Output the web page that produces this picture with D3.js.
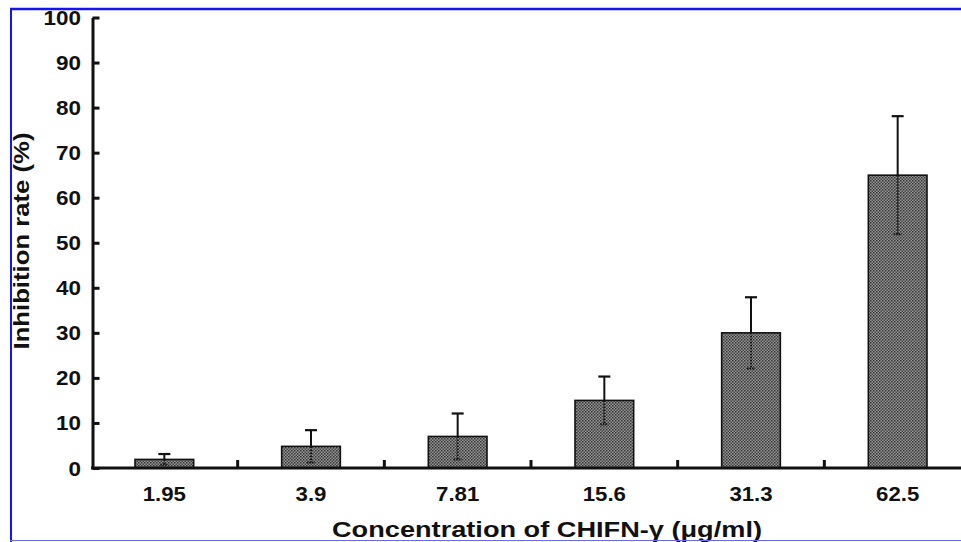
<!DOCTYPE html>
<html>
<head>
<meta charset="utf-8">
<script src="https://cdn.jsdelivr.net/npm/d3@7"></script>
<style>
  html, body { margin: 0; padding: 0; background: #fff; }
  svg { display: block; }
  text { font-family: "Liberation Sans", Arial, sans-serif; font-weight: bold; fill: #111; }
</style>
</head>
<body>
<svg id="chart" width="961" height="542"></svg>
<script>
// ---- data ----
const categories = ["1.95", "3.9", "7.81", "15.6", "31.3", "62.5"];
const values = [1.9, 4.8, 7.0, 15.0, 30.0, 65.0];
const sds = [1.2, 3.6, 5.1, 5.3, 7.9, 13.1];
const yTicks = [0, 10, 20, 30, 40, 50, 60, 70, 80, 90, 100];
const xTitle = "Concentration of CHIFN-\u03b3 (\u03bcg/ml)";
const yTitle = "Inhibition rate (%)";

const svg = d3.select("#chart");
const W = 961, H = 542;

// pattern for bars
const defs = svg.append("defs");
const pat = defs.append("pattern").attr("id", "dots")
  .attr("width", 3).attr("height", 3).attr("patternUnits", "userSpaceOnUse");
pat.append("rect").attr("width", 3).attr("height", 3).attr("fill", "#969696");
pat.append("rect").attr("x", 0).attr("y", 0).attr("width", 1.5).attr("height", 1.5).attr("fill", "#333");
pat.append("rect").attr("x", 1.5).attr("y", 1.5).attr("width", 1.5).attr("height", 1.5).attr("fill", "#444");

// scales
const x = d3.scaleBand().domain(categories).range([91, 971]).paddingInner(0.6).paddingOuter(0.3);
const y = d3.scaleLinear().domain([0, 100]).range([468, 17.5]);
const step = x.step();

// stretch helper (reference text is horizontally wide)
function stretch(sel, k) {
  sel.each(function() {
    const len = this.getComputedTextLength();
    d3.select(this).attr("textLength", len * k).attr("lengthAdjust", "spacingAndGlyphs");
  });
}

// bars
svg.append("g").selectAll("rect").data(categories).join("rect")
  .attr("x", d => x(d))
  .attr("y", (d, i) => y(values[i]))
  .attr("width", x.bandwidth())
  .attr("height", (d, i) => y(0) - y(values[i]))
  .attr("fill", "url(#dots)")
  .attr("stroke", "#111").attr("stroke-width", 1.6);

// error bars
const eg = svg.append("g");
categories.forEach((c, i) => {
  const cx = x(c) + x.bandwidth() / 2;
  const top = y(values[i] + sds[i]);
  const low = y(Math.max(0, values[i] - sds[i]));
  const v = y(values[i]);
  eg.append("line").attr("x1", cx).attr("x2", cx).attr("y1", v).attr("y2", top)
    .attr("stroke", "#111").attr("stroke-width", 2);
  eg.append("line").attr("x1", cx - 6).attr("x2", cx + 6).attr("y1", top).attr("y2", top)
    .attr("stroke", "#111").attr("stroke-width", 2.2);
  eg.append("line").attr("x1", cx).attr("x2", cx).attr("y1", v).attr("y2", low)
    .attr("stroke", "#111").attr("stroke-width", 2).attr("stroke-dasharray", "1.5,1.5");
  eg.append("line").attr("x1", cx - 4).attr("x2", cx + 4).attr("y1", low).attr("y2", low)
    .attr("stroke", "#111").attr("stroke-width", 2).attr("stroke-dasharray", "1.5,1");
});

// y axis
const yAxis = svg.append("g").attr("transform", "translate(92.5,0)")
  .call(d3.axisLeft(y).tickValues(yTicks).tickSizeInner(-7).tickSizeOuter(0).tickPadding(11.5));
yAxis.select(".domain").attr("stroke", "#111").attr("stroke-width", 3);
yAxis.selectAll(".tick line").attr("stroke", "#111").attr("stroke-width", 3);
yAxis.selectAll(".tick text").attr("font-size", 19.5).attr("font-family", "Liberation Sans, Arial, sans-serif")
  .attr("font-weight", "bold").attr("fill", "#111").attr("dy", "0.36em");
stretch(yAxis.selectAll(".tick text"), 1.15);

// x axis labels
const xAxis = svg.append("g").attr("transform", `translate(0,${y(0)})`)
  .call(d3.axisBottom(x).tickSize(0).tickPadding(19));
xAxis.select(".domain").remove();
svg.append("line").attr("x1", 91).attr("x2", W).attr("y1", y(0)).attr("y2", y(0))
  .attr("stroke", "#111").attr("stroke-width", 3);
xAxis.selectAll(".tick text").attr("font-size", 19.5).attr("font-family", "Liberation Sans, Arial, sans-serif")
  .attr("font-weight", "bold").attr("fill", "#111");
stretch(xAxis.selectAll(".tick text"), 1.14);

// category boundary ticks (pointing up)
svg.append("g").selectAll("line").data(categories.slice(0, -1)).join("line")
  .attr("x1", d => x(d) + x.bandwidth() / 2 + step / 2)
  .attr("x2", d => x(d) + x.bandwidth() / 2 + step / 2)
  .attr("y1", y(0)).attr("y2", y(0) - 8)
  .attr("stroke", "#111").attr("stroke-width", 3);

// titles
const xt = svg.append("text").attr("x", 547).attr("y", 537).attr("text-anchor", "middle")
  .attr("font-size", 21.5).text(xTitle);
xt.attr("textLength", 430).attr("lengthAdjust", "spacingAndGlyphs");

const yt = svg.append("text").attr("transform", "translate(28.5,241) rotate(-90)")
  .attr("text-anchor", "middle").attr("font-size", 22).text(yTitle);
yt.attr("textLength", 217).attr("lengthAdjust", "spacingAndGlyphs");

// blue frame
svg.append("line").attr("x1", 10).attr("x2", W).attr("y1", 9).attr("y2", 9)
  .attr("stroke", "#1414f0").attr("stroke-width", 2.5);
svg.append("line").attr("x1", 11).attr("x2", 11).attr("y1", 8).attr("y2", H)
  .attr("stroke", "#1414f0").attr("stroke-width", 2);
svg.append("line").attr("x1", 10).attr("x2", W).attr("y1", 540.5).attr("y2", 540.5)
  .attr("stroke", "#6a6af0").attr("stroke-width", 1.2);
</script>
</body>
</html>
